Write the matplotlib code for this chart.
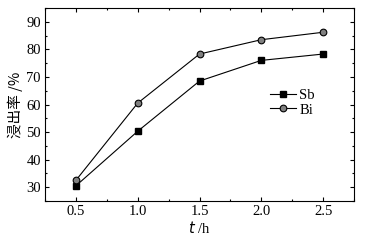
import matplotlib
matplotlib.use('Agg')
import matplotlib.pyplot as plt
from matplotlib.ticker import MultipleLocator

# data
t = [0.5, 1.0, 1.5, 2.0, 2.5]
sb = [30.5, 50.3, 68.5, 76.0, 78.3]
bi = [32.5, 60.5, 78.3, 83.5, 86.2]

plt.rcParams['font.family'] = ['Liberation Serif', 'Noto Sans CJK SC']
plt.rcParams['font.size'] = 10

fig = plt.figure(figsize=(3.7, 2.4), dpi=100)
ax = fig.add_axes([45/370, 1 - 201/240, 309/370, 193/240])

ax.plot(t, sb, '-s', color='black', lw=0.8, ms=4.2, label='Sb')
ax.plot(t, bi, '-o', color='black', lw=0.8, ms=4.8, mfc='#808080', mec='black',
        mew=0.8, label='Bi')

ax.set_xlim(0.25, 2.75)
ax.set_ylim(25, 95)
ax.xaxis.set_major_locator(MultipleLocator(0.5))
ax.xaxis.set_minor_locator(MultipleLocator(0.25))
ax.yaxis.set_major_locator(MultipleLocator(10))
ax.yaxis.set_minor_locator(MultipleLocator(5))
ax.tick_params(which='both', direction='in', top=True, right=True, width=0.8)
ax.tick_params(which='major', length=3, pad=3, labelsize=10.5)
ax.tick_params(which='minor', length=1.5)
for s in ax.spines.values():
    s.set_linewidth(0.8)

ax.set_xlabel('$t$ /h', fontsize=10.5, labelpad=1)
ax.set_ylabel('浸出率 /%', fontsize=10.5, labelpad=2,
              family=['Noto Sans CJK SC', 'Liberation Serif'])

ax.legend(loc='upper left', bbox_to_anchor=(0.695, 0.635), frameon=False,
          handlelength=1.8, handletextpad=0.2, labelspacing=0.1,
          borderpad=0.2, fontsize=10.5)

fig.savefig('out.png', dpi=100)
